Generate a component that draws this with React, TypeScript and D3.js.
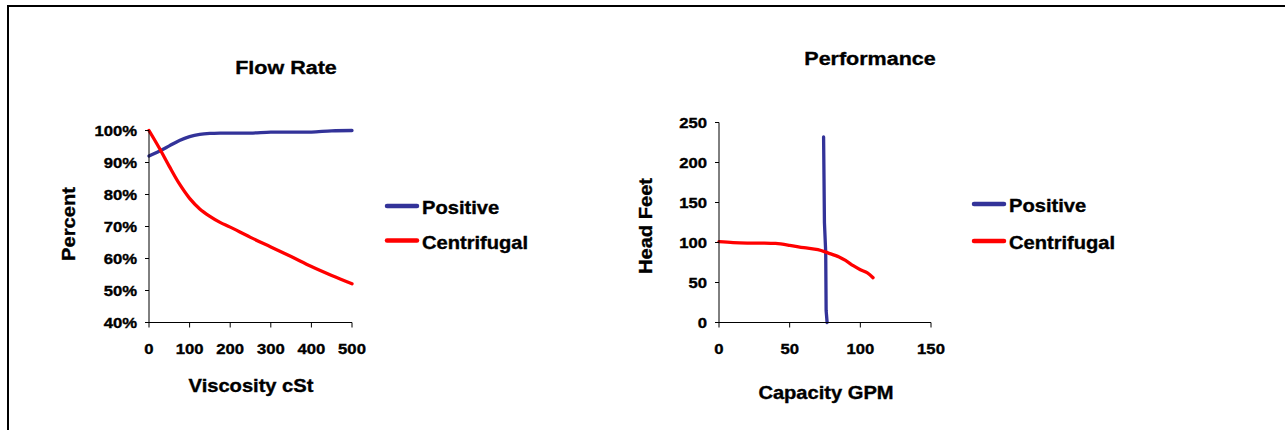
import React from 'react';
import * as d3 from 'd3';

// Flow Rate chart
const viscosity = [0, 25, 50, 75, 100, 125, 150, 175, 200, 250, 300, 350, 400, 450, 500];
const positiveFlow = [0.92, 0.935, 0.952, 0.969, 0.981, 0.988, 0.991, 0.992, 0.992, 0.992, 0.995, 0.995, 0.995, 0.999, 1.0];
const centrifugalFlow = [1.0, 0.946, 0.888, 0.833, 0.788, 0.755, 0.732, 0.713, 0.698, 0.666, 0.636, 0.606, 0.575, 0.547, 0.521];
const flowXTicks = [0, 100, 200, 300, 400, 500];
const flowYTicks = [0.4, 0.5, 0.6, 0.7, 0.8, 0.9, 1.0];

// Performance chart
const positiveCapacity = [74, 74.3, 74.6, 75.5, 75.8, 76.5];
const positiveHead = [232, 180, 125, 88, 15, 0];
const centrifugalCapacity = [0, 10, 20, 30, 40, 50, 60, 70, 77, 85, 90, 95, 100, 105, 109];
const centrifugalHead = [101, 99.8, 99.3, 99.3, 98.8, 96.5, 93.5, 91, 87, 82, 77, 71, 66, 62, 56];
const perfXTicks = [0, 50, 100, 150];
const perfYTicks = [0, 50, 100, 150, 200, 250];

const seriesNames = ['Positive', 'Centrifugal'];
const seriesColors = ['#333399', '#ff0000'];

const FONT = '"Liberation Sans", Arial, sans-serif';
const SX = 1.15;

function Label({ x, y, size, anchor = 'start', rotate = 0, children }: any) {
  return (
    <text
      transform={`translate(${x},${y}) rotate(${rotate}) scale(${SX},1)`}
      fontFamily={FONT}
      fontWeight="bold"
      fontSize={size}
      textAnchor={anchor}
      fill="#000"
      stroke="#000"
      strokeWidth={0.35}
    >
      {children}
    </text>
  );
}

function Chart({ title, titlePos, xLabel, xLabelPos, yLabel, yLabelPos, x, y, xTicks, yTicks, yFormat, series, legend }: any) {
  const [x0, x1] = x.range();
  const [y0, y1] = y.range();
  const smooth = d3.line<[number, number]>().x(d => x(d[0])).y(d => y(d[1])).curve(d3.curveCatmullRom.alpha(0.5));
  const straight = d3.line<[number, number]>().x(d => x(d[0])).y(d => y(d[1]));
  return (
    <g>
      <Label x={titlePos[0]} y={titlePos[1]} size={18.7} anchor="middle">{title}</Label>
      <Label x={xLabelPos[0]} y={xLabelPos[1]} size={17.5} anchor="middle">{xLabel}</Label>
      <Label x={yLabelPos[0]} y={yLabelPos[1]} size={17.5} anchor="middle" rotate={-90}>{yLabel}</Label>
      {series.map((s: any, i: number) => (
        <path key={i} d={(s.curve === false ? straight(s.points) : smooth(s.points)) || ''}
          fill="none" stroke={seriesColors[i]} strokeWidth={3.3} strokeLinejoin="round" strokeLinecap="round" />
      ))}
      <line x1={x0} x2={x0} y1={y1} y2={y0} stroke="#000" strokeWidth={1} />
      <line x1={x0} x2={x1} y1={y0} y2={y0} stroke="#000" strokeWidth={1} />
      {yTicks.map((t: number) => (
        <g key={'y' + t}>
          <line x1={x0 - 4} x2={x0} y1={y(t)} y2={y(t)} stroke="#000" />
          <Label x={x0 - 12} y={y(t) + 5} size={14.5} anchor="end">{yFormat(t)}</Label>
        </g>
      ))}
      {xTicks.map((t: number) => (
        <g key={'x' + t}>
          <line x1={x(t)} x2={x(t)} y1={y0} y2={y0 + 5} stroke="#000" />
          <Label x={x(t)} y={y0 + 31} size={14.5} anchor="middle">{t}</Label>
        </g>
      ))}
      {seriesNames.map((n, i) => (
        <g key={n}>
          <line x1={legend.x} x2={legend.x + 30} y1={legend.y + i * legend.gap} y2={legend.y + i * legend.gap}
            stroke={seriesColors[i]} strokeWidth={4.5} strokeLinecap="round" />
          <Label x={legend.x + 35} y={legend.y + i * legend.gap + 8} size={17.5}>{n}</Label>
        </g>
      ))}
    </g>
  );
}

export default function App() {
  const flowX = d3.scaleLinear().domain([0, 500]).range([149, 352]);
  const flowY = d3.scaleLinear().domain([0.4, 1.0]).range([322.5, 130.5]);
  const perfX = d3.scaleLinear().domain([0, 150]).range([719, 931]);
  const perfY = d3.scaleLinear().domain([0, 250]).range([322.5, 122.5]);

  const flowSeries = [
    { points: viscosity.map((v, i) => [v, positiveFlow[i]]) },
    { points: viscosity.map((v, i) => [v, centrifugalFlow[i]]) },
  ];
  const perfSeries = [
    { points: positiveCapacity.map((v, i) => [v, positiveHead[i]]), curve: false },
    { points: centrifugalCapacity.map((v, i) => [v, centrifugalHead[i]]) },
  ];

  return (
    <svg width={1285} height={430} style={{ position: 'absolute', left: 0, top: 0, background: '#fff' }}>
      <rect x={0} y={0} width={1285} height={430} fill="#fff" />
      <line x1={7} x2={1285} y1={6} y2={6} stroke="#000" strokeWidth={2} />
      <line x1={8} x2={8} y1={5} y2={430} stroke="#000" strokeWidth={2} />
      <Chart
        title="Flow Rate" titlePos={[286, 74]}
        xLabel="Viscosity cSt" xLabelPos={[251, 392]}
        yLabel="Percent" yLabelPos={[75, 224]}
        x={flowX} y={flowY} xTicks={flowXTicks} yTicks={flowYTicks}
        yFormat={d3.format('.0%')} series={flowSeries}
        legend={{ x: 387, y: 206, gap: 34.5 }}
      />
      <Chart
        title="Performance" titlePos={[870, 65]}
        xLabel="Capacity GPM" xLabelPos={[826, 399]}
        yLabel="Head Feet" yLabelPos={[652, 226]}
        x={perfX} y={perfY} xTicks={perfXTicks} yTicks={perfYTicks}
        yFormat={(d: number) => String(d)} series={perfSeries}
        legend={{ x: 974, y: 204, gap: 37 }}
      />
    </svg>
  );
}
